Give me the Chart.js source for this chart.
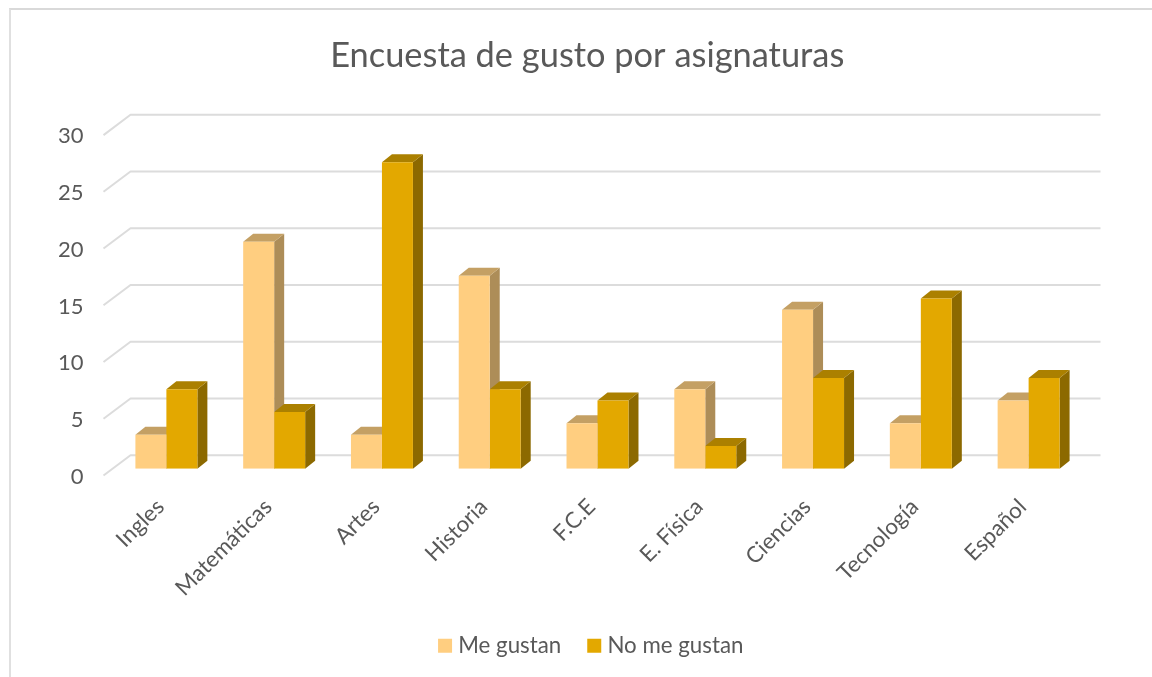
<!DOCTYPE html>
<html><head><meta charset="utf-8">
<style>
html,body{margin:0;padding:0;background:#fff;width:1152px;height:677px;overflow:hidden}
#frame{position:absolute;left:9px;top:8px;width:1160px;height:690px;border-top:2px solid #d9d9d9;border-left:2px solid #e0e0e0}
#c{position:absolute;left:0;top:0}
</style>
<script src="https://cdn.jsdelivr.net/npm/chart.js@4"></script>
</head><body>
<div id="frame"></div>
<canvas id="c" width="1152" height="677"></canvas>
<script>
const titleText = "Encuesta de gusto por asignaturas";
const categories = ["Ingles","Matemáticas","Artes","Historia","F.C.E","E. Física","Ciencias","Tecnología","Español"];
const meGustan = [3,20,3,17,4,7,14,4,6];
const noMeGustan = [7,5,27,7,6,2,8,15,8];
const seriesNames = ["Me gustan","No me gustan"];
const frontColors = ["#FFCE80","#E3A800"];
const topColors = ["#C4A064","#AB8000"];
const sideColors = ["#AD8D58","#8C6900"];
const textColor = "#595959";
const gridColor = "#dcdcdc";
const fontFamily = "Lato, 'Noto Sans', sans-serif";

const barDepth = {x:10, y:8};
const wallBack = {x:18, y:-13.5};
const wallFront = {x:-9, y:6.8};

const threeD = {
  id:"threeD",
  afterLayout(chart){
    const lg = chart.legend, tt = chart.titleBlock;
    tt.left += 46; tt.right += 46;
    lg.left += 52; lg.right += 52; lg.top -= 10; lg.bottom -= 10;
  },
  beforeDatasetsDraw(chart){
    const ctx = chart.ctx, y = chart.scales.y, a = chart.chartArea;
    ctx.save();
    ctx.strokeStyle = gridColor; ctx.lineWidth = 2; ctx.lineJoin = "round";
    y.ticks.forEach(t=>{
      const py = y.getPixelForValue(t.value);
      ctx.beginPath();
      ctx.moveTo(a.left+wallFront.x, py+wallFront.y);
      ctx.lineTo(a.left+wallBack.x, py+wallBack.y);
      ctx.lineTo(a.right+wallBack.x, py+wallBack.y);
      ctx.stroke();
    });
    [0,1].forEach(di=>{
      const els = chart.getDatasetMeta(di).data;
      els.forEach(el=>{
        const w = el.width, l = el.x-w/2, r = el.x+w/2, t = el.y, b = el.base;
        ctx.fillStyle = sideColors[di];
        ctx.beginPath();
        ctx.moveTo(r,t); ctx.lineTo(r+barDepth.x,t-barDepth.y);
        ctx.lineTo(r+barDepth.x,b-barDepth.y); ctx.lineTo(r,b);
        ctx.closePath(); ctx.fill();
        ctx.fillStyle = topColors[di];
        ctx.beginPath();
        ctx.moveTo(l,t); ctx.lineTo(l+barDepth.x,t-barDepth.y);
        ctx.lineTo(r+barDepth.x,t-barDepth.y); ctx.lineTo(r,t);
        ctx.closePath(); ctx.fill();
      });
    });
    ctx.restore();
  }
};

new Chart(document.getElementById("c"),{
  type:"bar",
  data:{labels:categories,datasets:[
    {label:seriesNames[0],data:meGustan,backgroundColor:frontColors[0],borderWidth:0,pointStyle:"rect"},
    {label:seriesNames[1],data:noMeGustan,backgroundColor:frontColors[1],borderWidth:0,pointStyle:"rect"}
  ]},
  options:{
    responsive:false,animation:false,
    categoryPercentage:0.575,barPercentage:1,
    layout:{padding:{left:0,right:69.5,top:0,bottom:0}},
    plugins:{
      tooltip:{enabled:false},
      title:{display:true,text:titleText,color:textColor,
        font:{family:fontFamily,size:34.4,weight:"normal"},padding:{top:35,bottom:52}},
      legend:{position:"bottom",
        labels:{color:textColor,usePointStyle:true,boxWidth:4,boxHeight:14,padding:31,
          font:{family:fontFamily,size:22.3}}}
    },
    scales:{
      x:{grid:{display:false},border:{display:false},
        afterFit(s){s.height=145;},
        ticks:{color:textColor,font:{family:fontFamily,size:22.3},
          minRotation:45,maxRotation:45,autoSkip:false,padding:17,labelOffset:-6}},
      y:{min:0,max:30,grid:{display:false},border:{display:false},
        afterFit(s){s.width=112.5;},
        ticks:{color:textColor,stepSize:5,padding:21,labelOffset:8,
          font:{family:fontFamily,size:22}}}
    }
  },
  plugins:[threeD]
});
</script>
</body></html>
